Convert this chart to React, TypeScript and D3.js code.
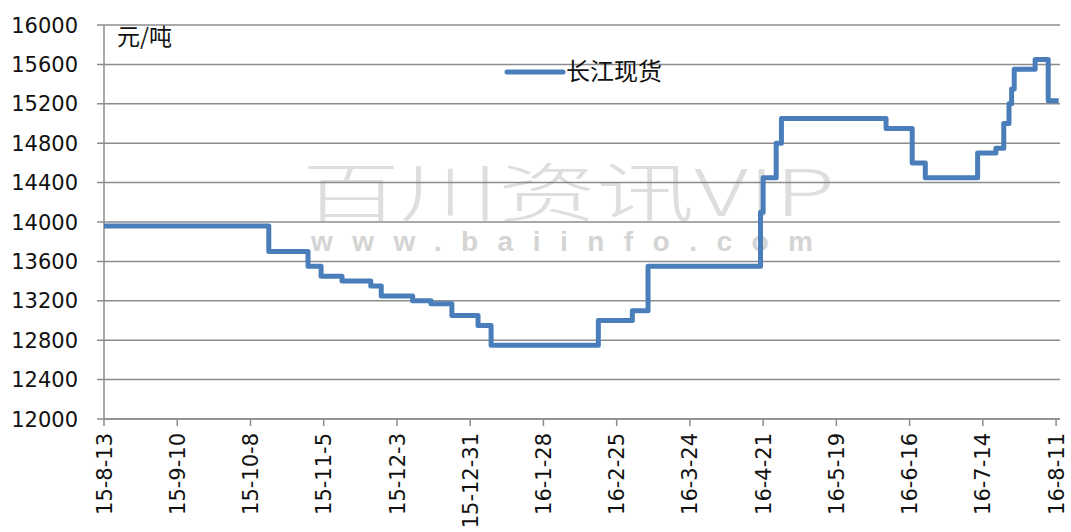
import React, { useEffect, useRef } from 'react';
import * as d3 from 'd3';

// change points of the price line (date, yuan/ton)
const dates = [
  '2015-08-13', '2015-10-15', '2015-10-30', '2015-11-04', '2015-11-12', '2015-11-23',
  '2015-11-27', '2015-12-09', '2015-12-16', '2015-12-24', '2016-01-03', '2016-01-08',
  '2016-02-18', '2016-03-02', '2016-03-08', '2016-04-20', '2016-04-21', '2016-04-26',
  '2016-04-28', '2016-06-07', '2016-06-17', '2016-06-22', '2016-07-12', '2016-07-19',
  '2016-07-22', '2016-07-24', '2016-07-25', '2016-07-26', '2016-08-03', '2016-08-08',
  '2016-08-12',
];
const prices = [
  13960, 13700, 13550, 13450, 13400, 13350,
  13250, 13200, 13170, 13050, 12950, 12750,
  13000, 13100, 13550, 14100, 14450, 14800,
  15050, 14950, 14600, 14450, 14700, 14750,
  15000, 15200, 15350, 15550, 15650, 15230,
  15230,
];
const xTickLabels = [
  '15-8-13', '15-9-10', '15-10-8', '15-11-5', '15-12-3', '15-12-31', '16-1-28',
  '16-2-25', '16-3-24', '16-4-21', '16-5-19', '16-6-16', '16-7-14', '16-8-11',
];
const yTicks = [12000, 12400, 12800, 13200, 13600, 14000, 14400, 14800, 15200, 15600, 16000];
const seriesName = '长江现货';
const unitLabel = '元/吨';

function App() {
  const ref = useRef<SVGSVGElement>(null);

  useEffect(() => {
    const width = 1071;
    const height = 532;
    const left = 104;
    const right = 1060;
    const top = 25;
    const bottom = 419;
    const parse = d3.timeParse('%Y-%m-%d');
    const numFont = '"DejaVu Sans", Verdana, sans-serif';
    const cjkFont = '"Noto Sans CJK SC", sans-serif';

    const svg = d3.select(ref.current)
      .attr('width', width)
      .attr('height', height)
      .style('background', '#fff');
    svg.selectAll('*').remove();

    const x = d3.scaleTime()
      .domain([parse('2015-08-13') as Date, new Date(2016, 7, 12, 12)])
      .range([left, right]);
    const y = d3.scaleLinear().domain([12000, 16000]).range([bottom, top]);

    // watermark (behind everything)
    svg.append('text')
      .attr('x', 302)
      .attr('y', 216)
      .attr('textLength', 533)
      .attr('lengthAdjust', 'spacingAndGlyphs')
      .style('font-family', cjkFont)
      .style('font-size', '64px')
      .style('font-weight', '300')
      .attr('fill', '#dedede')
      .text('百川资讯VIP');
    svg.append('text')
      .attr('x', 311)
      .attr('y', 251)
      .attr('textLength', 502)
      .attr('lengthAdjust', 'spacing')
      .style('font-family', '"Liberation Sans", Arial, sans-serif')
      .style('font-weight', 'bold')
      .style('font-size', '28px')
      .attr('fill', '#d4d4d4')
      .text('www.baiinfo.com');

    // grid lines + y labels
    svg.append('g')
      .selectAll('line')
      .data(yTicks)
      .enter()
      .append('line')
      .attr('x1', left - 7)
      .attr('x2', right)
      .attr('y1', d => y(d))
      .attr('y2', d => y(d))
      .attr('stroke', '#8c8c8c')
      .attr('stroke-width', 1.5);

    svg.append('g')
      .selectAll('text')
      .data(yTicks)
      .enter()
      .append('text')
      .attr('x', 78)
      .attr('y', d => y(d))
      .attr('dy', '0.36em')
      .attr('text-anchor', 'end')
      .style('font-family', numFont)
      .style('font-size', '21px')
      .attr('fill', '#111')
      .text(d => d);

    // axes lines
    svg.append('line')
      .attr('x1', left).attr('x2', left)
      .attr('y1', top).attr('y2', bottom)
      .attr('stroke', '#8c8c8c').attr('stroke-width', 1.5);
    svg.append('line')
      .attr('x1', left).attr('x2', right)
      .attr('y1', bottom).attr('y2', bottom)
      .attr('stroke', '#8c8c8c').attr('stroke-width', 1.5);

    // x ticks every 28 days, labels rotated
    const tickDates = xTickLabels.map((_, i) => d3.timeDay.offset(x.domain()[0], i * 28));
    svg.append('g')
      .selectAll('line')
      .data(tickDates)
      .enter()
      .append('line')
      .attr('x1', d => x(d)).attr('x2', d => x(d))
      .attr('y1', bottom).attr('y2', bottom + 7)
      .attr('stroke', '#8c8c8c').attr('stroke-width', 1.5);

    svg.append('g')
      .selectAll('text')
      .data(tickDates)
      .enter()
      .append('text')
      .attr('transform', d => `translate(${x(d)}, 433) rotate(-90)`)
      .attr('dy', '0.36em')
      .attr('text-anchor', 'end')
      .style('font-family', numFont)
      .style('font-size', '21px')
      .attr('fill', '#111')
      .text((d, i) => xTickLabels[i]);

    // price line
    const pts = dates.map((d, i) => ({ date: parse(d) as Date, value: prices[i] }));
    const line = d3.line<{ date: Date; value: number }>()
      .x(d => x(d.date))
      .y(d => y(d.value))
      .curve(d3.curveStepAfter);
    svg.append('path')
      .datum(pts)
      .attr('d', line)
      .attr('fill', 'none')
      .attr('stroke', '#4a7ebb')
      .attr('stroke-width', 5)
      .attr('stroke-linejoin', 'round');

    // unit label
    svg.append('text')
      .attr('x', 117)
      .attr('y', 45)
      .style('font-family', cjkFont)
      .style('font-size', '23px')
      .attr('fill', '#111')
      .text(unitLabel);

    // legend
    svg.append('line')
      .attr('x1', 507).attr('x2', 563)
      .attr('y1', 72).attr('y2', 72)
      .attr('stroke', '#4a7ebb')
      .attr('stroke-width', 5)
      .attr('stroke-linecap', 'round');
    svg.append('text')
      .attr('x', 566)
      .attr('y', 80)
      .style('font-family', cjkFont)
      .style('font-size', '24px')
      .attr('fill', '#111')
      .text(seriesName);
  }, []);

  return (
    <div style={{ position: 'absolute', left: 0, top: 0 }}>
      <svg ref={ref}></svg>
    </div>
  );
}

export default App;
